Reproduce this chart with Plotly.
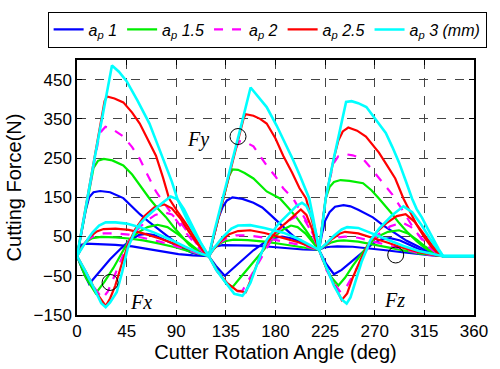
import plotly.graph_objects as go

# ---------------- data (angle deg, force N) ----------------
DEPTH_LABELS = ["<i>a</i><sub><i>p</i></sub><i> 1</i>",
                "<i>a</i><sub><i>p</i></sub><i> 1.5</i>",
                "<i>a</i><sub><i>p</i></sub><i> 2</i>",
                "<i>a</i><sub><i>p</i></sub><i> 2.5</i>",
                "<i>a</i><sub><i>p</i></sub><i> 3 (mm)</i>"]
COLORS = ["#0000ff", "#00ee00", "#ff00ff", "#ff0000", "#00ffff"]

# Fy (main humps)
FY_1 = [(0,0),(4,62),(8,118),(11,150),(15,163),(21,166),(30,163),(42,148),(50,125),(57,107),(65,88),(72,72),(80,55),(87,40),(95,22),(104,9),(113,3),(119.5,0),
        (124,50),(128,95),(132,125),(136,142),(141,150),(150,146),(160,136),(168,124),(176,104),(182.5,86),(190,67),(197,49),(205,33),(212,22),(219.5,16),
        (222,55),(225,90),(229,112),(234,126),(241.7,130),(248,127),(255,118),(262,108),(268.3,99),(278,78),(289,57),(299,39),(309.8,24),(318,12),(325,5),(332,0),(360,0)]
FY_15 = [(0,0),(4,62),(8,124),(12,185),(15,225),(19,243),(24.3,248),(32,244),(42,231),(50,208),(56.9,181),(65.7,147),(73,122),(80.5,100),(88,73),(95,49),(102,28),(110,12),(119.5,0),
         (124,51),(128,96),(132,140),(135,170),(138,205),(141,221),(146,220),(152,212),(160,198),(172,165),(184,147),(192,122),(200,95),(207,68),(213,42),(219.5,16),
         (222.5,80),(225.5,147),(229,176),(233,189),(239,194),(247,192),(259.4,186),(267,168),(273.8,147),(280,128),(285,110),(292,85),(300,60),(308,38),(315,22),(322,10),(332,0),(360,0)]
FY_2 = [(0,0),(4,62),(8,124),(12,186),(16,248),(19,290),(22,318),(25.8,330),(32,324),(42,305),(50,278),(56.9,248),(64,207),(71.6,165),(76,147),(85,110),(92,84),(98,62),(105,38),(112,16),(119.5,0),
        (124,51),(128,96),(132,141),(136,186),(140,232),(143,268),(147,293),(152,292),(160,280),(172,231),(180,203),(187,173),(196,147),(203,114),(210,80),(215,50),(219.5,16),
        (222.5,80),(225.5,147),(229,195),(233,238),(237,255),(243,260),(250,257),(259.4,248),(266,226),(273.8,198),(280,176),(286,157),(295,118),(305,72),(312,45),(318,25),(325,10),(332,0),(360,0)]
FY_25 = [(0,0),(4,62),(8,124),(12,186),(16,248),(20,310),(23,365),(25,395),(27.2,407),(34,402),(42,392),(50,366),(56.9,338),(64,298),(71.6,256),(78,200),(83.5,147),(92,110),(101,74),(108,42),(114,15),(119.5,0),
         (124,51),(128,96),(132,141),(136,186),(140,232),(144,277),(148,320),(151,350),(153,362),(160,358),(166,350),(172,338),(180,300),(187,256),(195,213),(201.8,173),(207.7,147),(212,105),(216,60),(219.5,16),
         (222.5,80),(225.5,147),(229,195),(233,250),(237,295),(241,318),(246,328),(254,320),(262,305),(268,285),(273.8,264),(281,232),(288.6,198),(296,147),(302,115),(308,80),(315,48),(321,25),(327,8),(332,0),(360,0)]
FY_3 = [(0,0),(8,130),(16,250),(24,370),(31.7,486),(38,470),(45,446),(55,396),(65.7,338),(73,285),(80.5,231),(86,190),(90.9,147),(96,115),(100,92),(105,66),(110,42),(115,18),(119.5,0),
        (124.8,66),(132.3,147),(140,232),(148,323),(157.4,430),(164,408),(172,380),(181,333),(190,281),(196,245),(202,206),(206,178),(210.6,147),(214,100),(217,55),(219.5,16),
        (222.5,80),(225.5,147),(232,238),(238,320),(243,388),(244,393),(249,395),(255,390),(262.4,380),(270,352),(280,314),(286,278),(292,239),(298,193),(303.8,147),(308,120),(312.7,99),(318,70),(323,42),(328,18),(332,0),(360,0)]

# Fz (small flat humps)
FZ_1 = [(0,0),(3,28),(8,32),(20,31),(35,29),(50,25),(65,18),(80,10),(92,5),(105,2),(119.5,0),
        (122,15),(126,25),(132,28),(145,28),(160,27),(175,24),(190,20),(205,17),(219.5,16),
        (224,22),(230,24),(236,25),(250,24),(265,20),(280,15),(295,10),(310,5),(322,2),(332,0),(360,0)]
FZ_15 = [(0,0),(4,22),(9,38),(14,46),(22,49),(35,48),(47,45),(60,40),(75,32),(90,22),(102,12),(112,4),(119.5,0),
         (123,15),(128,30),(134,38),(142,42),(155,41),(170,37),(185,31),(200,25),(210,20),(219.5,16),
         (224,25),(230,34),(236,39),(242,40),(255,37),(268,30),(282,22),(296,14),(310,7),(322,3),(332,0),(360,0)]
FZ_2 = [(0,0),(5,25),(10,42),(16,53),(24,58),(35,58),(47,55),(60,47),(75,37),(90,25),(102,14),(112,5),(119.5,0),
        (123,15),(129,33),(136,46),(144,53),(155,53),(170,47),(185,39),(200,30),(210,23),(219.5,16),
        (224,26),(231,40),(237,48),(243,50),(255,47),(268,38),(282,28),(296,17),(310,8),(322,3),(332,0),(360,0)]
FZ_25 = [(0,0),(6,30),(12,50),(18,63),(24,69),(35,70),(47,67),(60,58),(75,45),(90,30),(102,17),(112,6),(119.5,0),
         (124,18),(131,40),(138,56),(146,64),(157,66),(170,59),(185,48),(200,36),(210,26),(219.5,16),
         (225,28),(232,45),(238,57),(243,62),(255,58),(268,47),(282,34),(296,21),(310,10),(322,4),(332,0),(360,0)]
FZ_3 = [(0,0),(7,32),(14,60),(20,78),(26,86),(35,86),(45,83),(57,74),(70,60),(85,42),(98,24),(110,9),(119.5,0),
        (124,20),(132,48),(140,70),(146,78),(157,79),(170,72),(187,60),(200,45),(210,30),(219.5,16),
        (226,32),(233,52),(240,68),(245,74),(255,72),(268,58),(282,42),(296,26),(310,13),(322,5),(332,0),(360,0)]

# Fx (S-shaped waves)
FX_1 = [(0,0),(5,-35),(11,-71),(20,-40),(30,-8),(40,20),(48,40),(56,54),(63,57),(70,54),(80,42),(90,28),(100,15),(110,5),(119.5,0),
        (126,-25),(134,-50),(142,-30),(150,-10),(160,15),(170,35),(178,46),(186,50),(195,45),(205,33),(212,24),(219.5,16),
        (226,-20),(233,-46),(240,-35),(250,-12),(260,12),(268,32),(276,43),(284,46),(293,40),(303,27),(313,14),(322,5),(332,0),(360,0)]
FX_15 = [(0,0),(8,-55),(17,-95),(25,-65),(33,-30),(40,5),(47,40),(55,60),(64,74),(73,80),(82,74),(92,55),(102,32),(111,12),(119.5,0),
         (128,-40),(135,-68),(141,-79),(148,-55),(156,-28),(164,0),(172,28),(180,52),(187,68),(194,78),(200,74),(207,58),(213,38),(219.5,16),
         (226,-30),(231,-55),(237,-75),(243,-55),(250,-25),(258,5),(265,32),(273,50),(282,62),(292,66),(300,58),(308,42),(316,24),(324,9),(332,0),(360,0)]
FX_2 = [(0,0),(8,-42),(15,-78),(23,-108),(28,-90),(34,-50),(40,-10),(47,38),(55,68),(63,90),(71,105),(79,112),(86,106),(94,85),(103,52),(111,22),(119.5,0),
        (127,-38),(136,-70),(144,-90),(150,-88),(156,-60),(163,-25),(170,10),(177,45),(185,72),(193,92),(200,103),(206,94),(212,65),(216,40),(219.5,16),
        (226,-35),(233,-68),(239,-92),(244,-80),(251,-45),(258,-10),(265,28),(273,55),(284,76),(295,86),(303,74),(311,50),(319,26),(326,9),(332,0),(360,0)]
FX_25 = [(0,0),(9,-45),(18,-95),(26,-127),(30,-108),(34.7,-75),(40,-25),(46,28),(53,70),(61,102),(70,124),(79,132),(86,122),(94,95),(102,60),(110,28),(119.5,0),
         (127,-38),(136,-68),(145,-88),(153,-92),(157.4,-63),(162,-30),(166,0),(171,30),(176.6,49),(183,70),(190,86),(197,105),(203,119),(208,105),(213,70),(216.5,40),(219.5,16),
         (226,-30),(233,-70),(240,-112),(245,-95),(250,-55),(257,-10),(264,30),(272,62),(281,85),(290,102),(298,107),(306,88),(314,58),(322,28),(328,9),(332,0),(360,0)]
FX_3 = [(0,0),(8,-40),(16,-85),(22,-120),(26,-130),(30,-118),(36,-92),(41,-40),(46,20),(52,60),(57,82),(63,100),(69,115),(77,135),(85,152),(91,145),(97,120),(104,80),(112,35),(119.5,0),
        (126,-34),(133.7,-63),(142.6,-96),(150,-101),(153,-90),(157.4,-67),(164.8,-9),(172,41),(182.5,82),(193,111),(199,128),(204,136),(208,128),(213.6,95),(217,55),(219.5,16),
        (226,-30),(233,-75),(240,-110),(244.5,-121),(248,-105),(253.6,-55),(258,-15),(262.4,15),(266,40),(274,70),(286,105),(296,127),(304,112),(312.7,78),(320,45),(327.5,16),(332,0),(360,0)]

FY = [FY_1, FY_15, FY_2, FY_25, FY_3]
FX = [FX_1, FX_15, FX_2, FX_25, FX_3]
FZ = [FZ_1, FZ_15, FZ_2, FZ_25, FZ_3]

X_TICKS = [0, 45, 90, 135, 180, 225, 270, 315, 360]
Y_TICKS = [-150, -50, 50, 150, 250, 350, 450]

# annotation markers (circles) and component labels
CIRCLES = [(30, -67), (146, 305), (289, 3)]
LABELS = [("Fy", 109.7, 298), ("Fx", 57.6, -116), ("Fz", 287.6, -112)]

fig = go.Figure()
for i in range(5):
    xs, ys = [], []
    for comp in (FX[i], FZ[i], FY[i]):
        xs += [p[0] for p in comp] + [None]
        ys += [p[1] for p in comp] + [None]
    fig.add_trace(go.Scatter(
        x=xs, y=ys, mode="lines", name=DEPTH_LABELS[i],
        line=dict(color=COLORS[i], width=2.6 if i == 4 else 2.2,
                  dash="dash" if i == 2 else "solid"),
        connectgaps=False))

for cx, cy in CIRCLES:
    fig.add_shape(type="circle", xref="x", yref="y", xsizemode="pixel", ysizemode="pixel",
                  xanchor=cx, yanchor=cy, x0=-8, x1=8, y0=-8, y1=8,
                  line=dict(color="black", width=1))

for t, lx, ly in LABELS:
    fig.add_annotation(x=lx, y=ly, text="<i>%s</i>" % t, showarrow=False,
                       font=dict(family="Liberation Serif", size=20, color="black"))

axis_common = dict(showline=True, linecolor="black", linewidth=1.5, mirror="ticks",
                   ticks="inside", ticklen=5, tickcolor="black",
                   showgrid=True, gridcolor="#444444", gridwidth=1, griddash="dash",
                   zeroline=False, tickfont=dict(family="Liberation Sans", size=17, color="black"))

fig.update_xaxes(range=[0, 360], tickvals=X_TICKS, title=dict(text="Cutter Rotation Angle (deg)",
                 font=dict(family="Liberation Sans", size=20, color="black"), standoff=2), **axis_common)
fig.update_yaxes(range=[-150, 500], tickvals=Y_TICKS, title=dict(text="Cutting Force(N)",
                 font=dict(family="Liberation Sans", size=20, color="black"), standoff=7), **axis_common)

fig.update_layout(
    width=500, height=369,
    margin=dict(l=77, r=17, t=56, b=51),
    plot_bgcolor="white", paper_bgcolor="white",
    legend=dict(orientation="h", x=-0.074, y=1.19, xanchor="left", yanchor="top",
                bordercolor="black", borderwidth=1, bgcolor="white",
                font=dict(family="Liberation Sans", size=16, color="black"),
                itemwidth=30, tracegroupgap=0),
    showlegend=True,
)

fig.write_html("out.html")
